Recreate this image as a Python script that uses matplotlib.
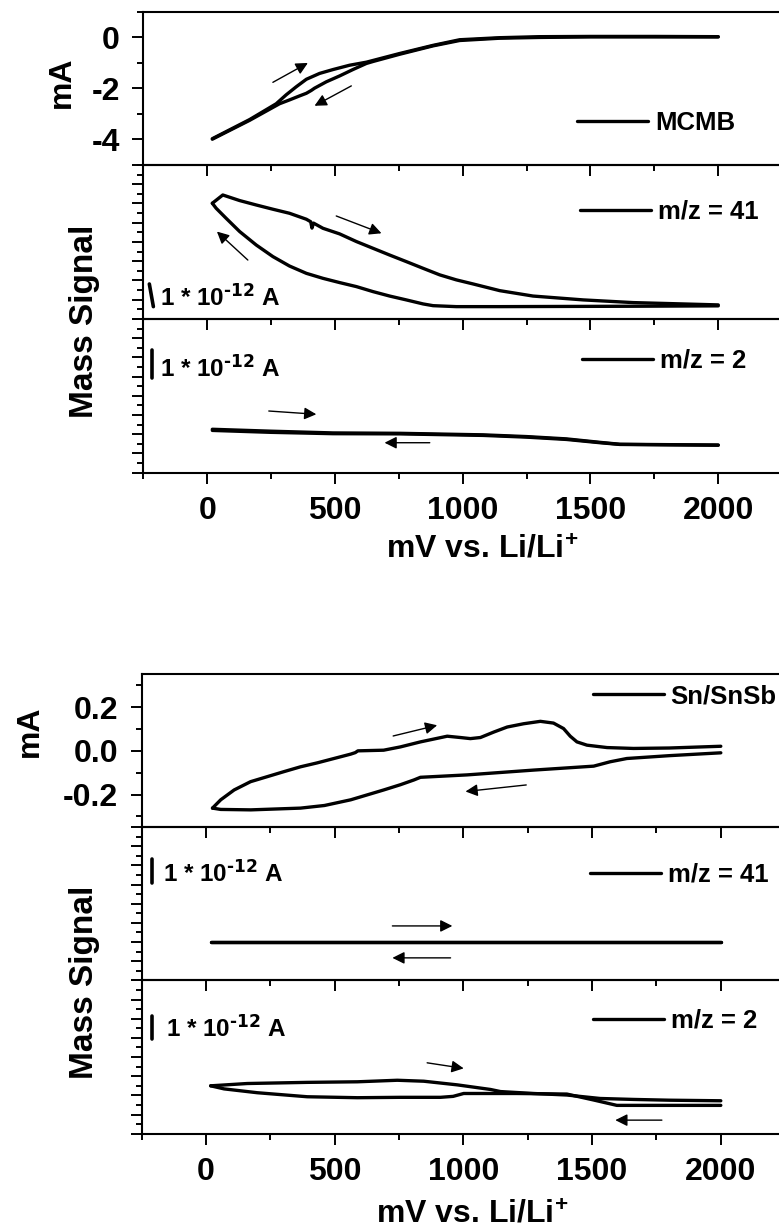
import numpy as np
import matplotlib
matplotlib.use("Agg")
import matplotlib.pyplot as plt
from matplotlib.ticker import MultipleLocator, FormatStrFormatter

plt.rcParams['font.family'] = 'Liberation Sans'
plt.rcParams['font.weight'] = 'bold'
plt.rcParams['axes.labelweight'] = 'bold'
plt.rcParams['mathtext.default'] = 'regular'
plt.rcParams['axes.unicode_minus'] = False

# ---- MCMB: current (mA) ----
mcmb_v_fwd = [20, 166, 270, 309, 349, 388, 440, 492, 557, 623, 753, 884, 988, 1145, 1300, 1500, 1750, 2000]
mcmb_i_fwd = [-3.97, -3.22, -2.60, -2.25, -1.93, -1.64, -1.41, -1.26, -1.09, -0.97, -0.63, -0.31, -0.09, -0.01, 0.03, 0.04, 0.04, 0.03]
mcmb_v_rev = [2000, 1750, 1500, 1300, 1145, 988, 884, 753, 650, 623, 570, 518, 466, 420, 407, 388, 362, 322, 283, 166, 20]
mcmb_i_rev = [0.02, 0.02, 0.02, 0.0, -0.03, -0.12, -0.33, -0.66, -0.94, -1.02, -1.26, -1.51, -1.74, -1.99, -2.08, -2.19, -2.29, -2.45, -2.60, -3.25, -3.99]

# ---- MCMB: m/z = 41 (arb. units) ----
mcmb41_v_fwd = [20, 61, 127, 192, 257, 322, 388, 405, 410, 416, 453, 518, 584, 649, 714, 779, 845, 910, 975, 1040, 1145, 1275, 1471, 1667, 2000]
mcmb41_s_fwd = [6.01, 6.44, 6.15, 5.92, 5.70, 5.49, 5.18, 5.05, 4.72, 4.98, 4.71, 4.42, 4.02, 3.67, 3.32, 2.98, 2.63, 2.29, 2.03, 1.82, 1.47, 1.19, 0.99, 0.85, 0.73]
mcmb41_v_rev = [2000, 1667, 1400, 1145, 975, 884, 845, 779, 714, 649, 584, 518, 453, 388, 322, 257, 192, 127, 74, 35, 20]
mcmb41_s_rev = [0.68, 0.66, 0.65, 0.64, 0.64, 0.69, 0.78, 0.99, 1.19, 1.42, 1.68, 1.89, 2.11, 2.37, 2.75, 3.24, 3.84, 4.54, 5.23, 5.75, 6.01]

# ---- MCMB: m/z = 2 ----
mcmb2_v_fwd = [20, 250, 492, 753, 1080, 1250, 1406, 1537, 1615, 1800, 2000]
mcmb2_s_fwd = [2.26, 2.16, 2.07, 2.05, 1.97, 1.88, 1.76, 1.58, 1.48, 1.46, 1.44]
mcmb2_v_rev = [2000, 1800, 1615, 1537, 1406, 1250, 1080, 753, 492, 250, 20]
mcmb2_s_rev = [1.43, 1.45, 1.47, 1.56, 1.73, 1.85, 1.94, 2.02, 2.03, 2.10, 2.20]

# ---- Sn/SnSb: current (mA) ----
sn_v_fwd = [25, 57, 109, 173, 238, 303, 367, 432, 497, 562, 580, 590, 690, 755, 833, 937, 988, 1027, 1066, 1118,
            1170, 1234, 1299, 1350, 1389, 1415, 1441, 1480, 1558, 1661, 1800, 2000]
sn_i_fwd = [-0.262, -0.224, -0.179, -0.141, -0.118, -0.095, -0.073, -0.055, -0.035, -0.015, -0.008, 0.0, 0.003, 0.018,
            0.041, 0.067, 0.061, 0.056, 0.061, 0.086, 0.109, 0.124, 0.135, 0.127, 0.102, 0.067, 0.041, 0.026, 0.015,
            0.011, 0.013, 0.021]
sn_v_rev = [2000, 1800, 1635, 1570, 1506, 1273, 1014, 833, 808, 755, 690, 562, 460, 367, 174, 57, 25]
sn_i_rev = [-0.009, -0.022, -0.035, -0.050, -0.070, -0.088, -0.110, -0.121, -0.133, -0.155, -0.179, -0.224, -0.250, -0.262, -0.270, -0.268, -0.262]

# ---- Sn/SnSb: m/z = 41 ----
sn41_v_fwd = [20, 500, 1000, 1500, 2000]
sn41_s_fwd = [2.00, 2.00, 2.00, 2.00, 2.00]
sn41_v_rev = [2000, 1500, 1000, 500, 20]
sn41_s_rev = [1.99, 1.99, 1.99, 1.99, 1.99]

# ---- Sn/SnSb: m/z = 2 ----
sn2_v_fwd = [18, 160, 393, 588, 743, 846, 976, 1105, 1144, 1273, 1402, 1531, 1661, 1800, 2000]
sn2_s_fwd = [2.50, 2.62, 2.68, 2.71, 2.79, 2.74, 2.55, 2.31, 2.20, 2.10, 2.02, 1.84, 1.79, 1.75, 1.72]
sn2_v_rev = [2000, 1596, 1506, 1402, 1208, 1001, 960, 911, 755, 588, 393, 199, 70, 18]
sn2_s_rev = [1.48, 1.48, 1.76, 2.07, 2.10, 2.10, 1.95, 1.90, 1.90, 1.88, 1.93, 2.14, 2.34, 2.50]

fig = plt.figure(figsize=(7.79, 12.31), dpi=100)

top_l, top_w = 0.184, 0.820
bot_l, bot_w = 0.1819, 0.826
ax1 = fig.add_axes([top_l, 0.8660, top_w, 0.1243])
ax2 = fig.add_axes([top_l, 0.7409, top_w, 0.1251])
ax3 = fig.add_axes([top_l, 0.6160, top_w, 0.1249])
ax4 = fig.add_axes([bot_l, 0.3279, bot_w, 0.1243])
ax5 = fig.add_axes([bot_l, 0.2037, bot_w, 0.1243])
ax6 = fig.add_axes([bot_l, 0.0790, bot_w, 0.1246])

LW = 2.4


def style(ax, ylim, major, minor, ylabels=False, xlabels=False):
    ax.set_facecolor('none')
    ax.set_xlim(-250, 2250)
    ax.set_ylim(*ylim)
    ax.xaxis.set_major_locator(MultipleLocator(500))
    ax.xaxis.set_minor_locator(MultipleLocator(250))
    ax.yaxis.set_major_locator(MultipleLocator(major))
    ax.yaxis.set_minor_locator(MultipleLocator(minor))
    ax.tick_params(which='major', direction='out', length=8, width=1.4,
                   labelsize=23, pad=9)
    ax.tick_params(which='minor', direction='out', length=4.5, width=1.4)
    ax.tick_params(labelleft=ylabels, labelbottom=xlabels)
    for s in ax.spines.values():
        s.set_linewidth(1.5)


def cv(ax, vf, yf, vr, yr, label):
    line, = ax.plot(vf, yf, color='k', lw=LW, solid_capstyle='round',
                    solid_joinstyle='round', label=label)
    ax.plot(vr, yr, color='k', lw=LW, solid_capstyle='round', solid_joinstyle='round')
    return line


def legend(ax, line, x, y):
    ax.legend(handles=[line], loc='center left', bbox_to_anchor=(x, y),
              frameon=False, fontsize=18.5, handlelength=2.76,
              handletextpad=0.27, borderpad=0, borderaxespad=0)


def arrow(ax, tail, head):
    ax.annotate('', xy=head, xytext=tail,
                arrowprops=dict(arrowstyle='-|>', color='k', lw=1.0,
                                mutation_scale=18, shrinkA=0, shrinkB=0))


def scalebar(ax, x0, y0, x1, y1, tx, ty):
    ax.plot([x0, x1], [y0, y1], transform=ax.transAxes, color='k', lw=2.6,
            solid_capstyle='round', clip_on=False)
    ax.text(tx, ty, r'1 * 10$^{\text{-12}}$ A', transform=ax.transAxes,
            fontsize=17.5, va='baseline', ha='left')


# --- top group: MCMB ---
l = cv(ax1, mcmb_v_fwd, mcmb_i_fwd, mcmb_v_rev, mcmb_i_rev, 'MCMB')
style(ax1, (-5, 1), 2, 1, ylabels=True)
legend(ax1, l, 0.679, 0.275)
arrow(ax1, (257, -1.76), (394, -1.0))
arrow(ax1, (564, -1.90), (420, -2.68))
ax1.set_ylabel('mA', fontsize=23)
ax1.yaxis.set_label_coords(-0.104, 0.54)

l = cv(ax2, mcmb41_v_fwd, mcmb41_s_fwd, mcmb41_v_rev, mcmb41_s_rev, 'm/z = 41')
style(ax2, (0, 8), 1, 0.5)
legend(ax2, l, 0.684, 0.697)
arrow(ax2, (505, 5.35), (682, 4.45))
arrow(ax2, (159, 3.06), (38, 4.54))
scalebar(ax2, 0.0094, 0.227, 0.0157, 0.080, 0.026, 0.084)
ax2.set_ylabel('Mass Signal', fontsize=24)
ax2.yaxis.set_label_coords(-0.068, -0.013)

l = cv(ax3, mcmb2_v_fwd, mcmb2_s_fwd, mcmb2_v_rev, mcmb2_s_rev, 'm/z = 2')
style(ax3, (0, 8), 1, 0.5, xlabels=True)
legend(ax3, l, 0.687, 0.729)
arrow(ax3, (241, 3.21), (427, 3.04))
arrow(ax3, (871, 1.56), (694, 1.56))
scalebar(ax3, 0.0136, 0.798, 0.0136, 0.616, 0.026, 0.625)
ax3.set_xlabel('mV vs. Li/Li$^{+}$', fontsize=23)
ax3.xaxis.set_label_coords(0.531, -0.405)

# --- bottom group: Sn/SnSb ---
l = cv(ax4, sn_v_fwd, sn_i_fwd, sn_v_rev, sn_i_rev, 'Sn/SnSb')
style(ax4, (-0.35, 0.35), 0.2, 0.1, ylabels=True)
ax4.yaxis.set_major_formatter(FormatStrFormatter('%.1f'))
legend(ax4, l, 0.701, 0.858)
arrow(ax4, (727, 0.068), (898, 0.117))
arrow(ax4, (1244, -0.156), (1008, -0.186))
ax4.set_ylabel('mA', fontsize=23)
ax4.yaxis.set_label_coords(-0.150, 0.63)

l = cv(ax5, sn41_v_fwd, sn41_s_fwd, sn41_v_rev, sn41_s_rev, 'm/z = 41')
style(ax5, (0, 8), 1, 0.5)
legend(ax5, l, 0.697, 0.688)
arrow(ax5, (724, 2.84), (957, 2.84))
arrow(ax5, (950, 1.17), (724, 1.17))
scalebar(ax5, 0.0155, 0.793, 0.0155, 0.636, 0.033, 0.642)
ax5.set_ylabel('Mass Signal', fontsize=24)
ax5.yaxis.set_label_coords(-0.065, -0.015)

l = cv(ax6, sn2_v_fwd, sn2_s_fwd, sn2_v_rev, sn2_s_rev, 'm/z = 2')
style(ax6, (0, 8), 1, 0.5, xlabels=True)
legend(ax6, l, 0.701, 0.737)
arrow(ax6, (859, 3.70), (1001, 3.41))
arrow(ax6, (1771, 0.71), (1590, 0.71))
scalebar(ax6, 0.0155, 0.767, 0.0155, 0.617, 0.0373, 0.632)
ax6.set_xlabel('mV vs. Li/Li$^{+}$', fontsize=23)
ax6.xaxis.set_label_coords(0.514, -0.432)

fig.savefig('out.png', dpi=100)
